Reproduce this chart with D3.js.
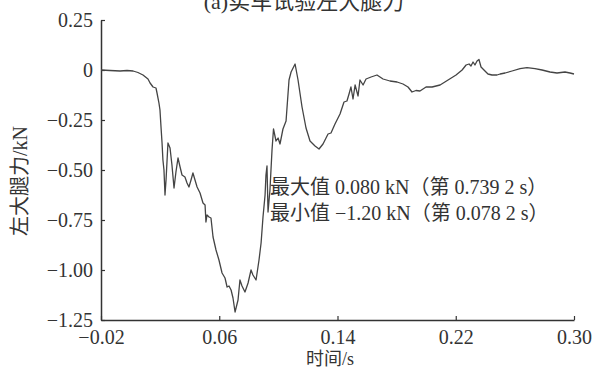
<!DOCTYPE html>
<html>
<head>
<meta charset="utf-8">
<script src="https://cdn.jsdelivr.net/npm/d3@7"></script>
<style>
  html, body { margin: 0; padding: 0; background: #fff; }
  svg { display: block; }
  text { font-family: "Liberation Serif", "Noto Sans CJK SC", serif; fill: #333; }
</style>
</head>
<body>
<svg id="chart" width="595" height="370"></svg>
<script>
// ---- data ----
const time = [
  -0.02, -0.0139, -0.0071, -0.0024, 0.0017, 0.0050, 0.0084, 0.0118, 0.0132, 0.0152,
  0.0172, 0.0179, 0.0192, 0.0199, 0.0206, 0.0213, 0.0219, 0.0226, 0.0233, 0.0240,
  0.0253, 0.0267, 0.0280, 0.0294, 0.0307, 0.0321, 0.0335, 0.0348, 0.0368, 0.0382,
  0.0395, 0.0409, 0.0422, 0.0436, 0.0450, 0.0470, 0.0490, 0.0504, 0.0510, 0.0517,
  0.0531, 0.0544, 0.0558, 0.0578, 0.0598, 0.0619, 0.0639, 0.0653, 0.0666, 0.0680,
  0.0693, 0.0707, 0.0727, 0.0740, 0.0754, 0.0774, 0.0795, 0.0815, 0.0828, 0.0849,
  0.0869, 0.0883, 0.0896, 0.0910, 0.0916, 0.0923, 0.0930, 0.0943, 0.0957, 0.0967,
  0.0984, 0.0998, 0.1011, 0.1031, 0.1052, 0.1072, 0.1086, 0.1113, 0.1133, 0.1160,
  0.1187, 0.1214, 0.1248, 0.1275, 0.1302, 0.1336, 0.1356, 0.1383, 0.1417, 0.1444,
  0.1464, 0.1478, 0.1491, 0.1505, 0.1519, 0.1539, 0.1552, 0.1573, 0.1593, 0.1627,
  0.1667, 0.1708, 0.1755, 0.1803, 0.1843, 0.1877, 0.1904, 0.1931, 0.1958, 0.1999,
  0.2040, 0.2094, 0.2148, 0.2202, 0.2243, 0.2270, 0.2290, 0.2303, 0.2317, 0.2330,
  0.2344, 0.2357, 0.2371, 0.2391, 0.2418, 0.2445, 0.2479, 0.2500, 0.2534, 0.2581,
  0.2635, 0.2682, 0.2736, 0.2784, 0.2838, 0.2885, 0.2939, 0.2973, 0.3000
];
const force = [
  0, -0.0025, -0.005, -0.0025, -0.005, -0.0125, -0.025, -0.045, -0.065, -0.085,
  -0.09, -0.115, -0.165, -0.20, -0.285, -0.365, -0.45, -0.50, -0.625, -0.55,
  -0.365, -0.39, -0.475, -0.59, -0.51, -0.44, -0.485, -0.525, -0.535, -0.565,
  -0.585, -0.55, -0.515, -0.55, -0.585, -0.615, -0.665, -0.675, -0.76, -0.725,
  -0.735, -0.74, -0.835, -0.90, -0.95, -1.015, -1.04, -1.085, -1.08, -1.10,
  -1.14, -1.21, -1.15, -1.05, -1.08, -1.11, -1.065, -1.00, -1.025, -1.05,
  -0.95, -0.865, -0.735, -0.625, -0.525, -0.48, -0.71, -0.60, -0.40, -0.295,
  -0.355, -0.34, -0.37, -0.295, -0.255, -0.05, -0.01, 0.03, -0.05, -0.185,
  -0.29, -0.355, -0.38, -0.395, -0.37, -0.32, -0.315, -0.27, -0.22, -0.16,
  -0.155, -0.12, -0.085, -0.145, -0.075, -0.13, -0.05, -0.075, -0.045, -0.035,
  -0.025, -0.045, -0.055, -0.06, -0.07, -0.085, -0.11, -0.1025, -0.105, -0.085,
  -0.085, -0.075, -0.05, -0.025, 0, 0.025, 0.03, 0.02, 0.04, 0.025,
  0.045, 0.0525, 0.015, 0, -0.02, -0.025, -0.025, -0.02, -0.015, -0.005,
  0.007, 0.012, 0.007, 0, -0.01, -0.015, -0.01, -0.015, -0.02
];
const xTicks = [-0.02, 0.06, 0.14, 0.22, 0.30];
const yTicks = [0.25, 0, -0.25, -0.50, -0.75, -1.00, -1.25];
const title = "(a)实车试验左大腿力";
const xLabel = "时间/s";
const yLabel = "左大腿力/kN";
const notes = ["最大值 0.080 kN（第 0.739 2 s）", "最小值 −1.20 kN（第 0.078 2 s）"];

// ---- layout ----
const svg = d3.select("#chart");
const x = d3.scaleLinear().domain([-0.02, 0.30]).range([101, 574]);
const y = d3.scaleLinear().domain([-1.25, 0.25]).range([320, 20]);
const fmt = d3.format(".2f");

// title (its top is cut off in the original too)
svg.append("text")
  .attr("x", 304).attr("y", 9)
  .attr("text-anchor", "middle")
  .style("font-size", "22px")
  .text(title);

// axes
const xAxis = svg.append("g")
  .attr("transform", `translate(0,${y(-1.25)})`)
  .call(d3.axisBottom(x).tickValues(xTicks).tickSizeInner(-4).tickSizeOuter(0)
    .tickPadding(10).tickFormat(fmt));

const yAxis = svg.append("g")
  .attr("transform", `translate(${x(-0.02)},0)`)
  .call(d3.axisLeft(y).tickValues(yTicks).tickSizeInner(-4).tickSizeOuter(0)
    .tickPadding(8).tickFormat(d => d === 0 ? "0" : fmt(d)));

[xAxis, yAxis].forEach(a => {
  a.select(".domain").attr("stroke", "#333").attr("stroke-width", 1.5);
  a.selectAll(".tick line").attr("stroke", "#333").attr("stroke-width", 1.2);
  a.selectAll(".tick text")
    .attr("font-family", null).attr("font-size", null)
    .style("font-family", "'Liberation Serif', serif")
    .style("font-size", "20px")
    .attr("fill", "#333");
});
xAxis.attr("font-size", null).attr("font-family", null);
yAxis.attr("font-size", null).attr("font-family", null);

// curve
const line = d3.line()
  .x((d, i) => x(time[i]))
  .y(d => y(d));

svg.append("path")
  .datum(force)
  .attr("fill", "none")
  .attr("stroke", "#444")
  .attr("stroke-width", 1.3)
  .attr("stroke-linejoin", "round")
  .attr("d", line);

// annotation
svg.selectAll(".note")
  .data(notes)
  .enter().append("text")
  .attr("class", "note")
  .attr("x", 270)
  .attr("y", (d, i) => 194 + i * 26)
  .style("font-size", "20px")
  .text(d => d);

// axis labels
svg.append("text")
  .attr("x", 330).attr("y", 365)
  .attr("text-anchor", "middle")
  .style("font-size", "18px")
  .text(xLabel);

svg.append("text")
  .attr("transform", "translate(27,181) rotate(-90)")
  .attr("text-anchor", "middle")
  .style("font-size", "20px")
  .text(yLabel);
</script>
</body>
</html>
